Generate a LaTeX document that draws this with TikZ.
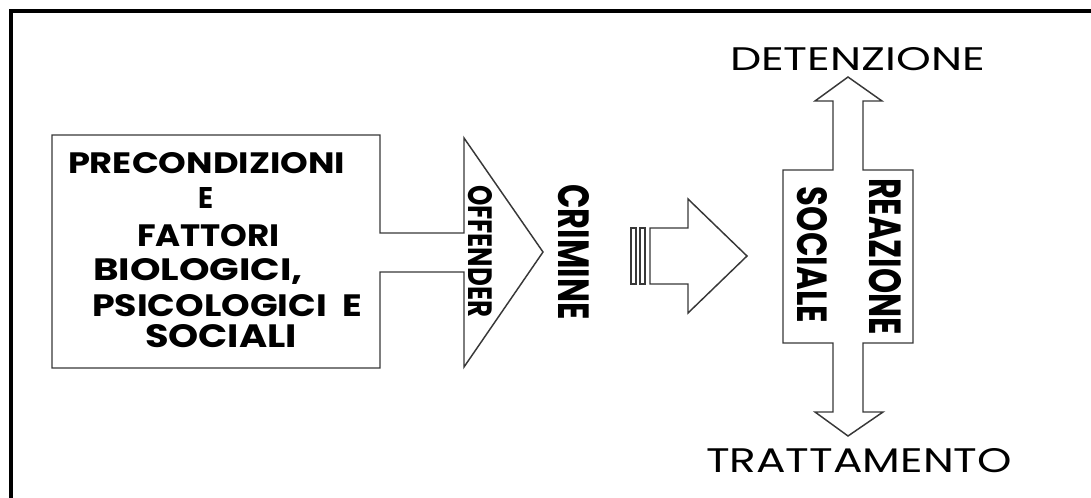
\documentclass[tikz,border=0pt]{standalone}
\usepackage{fontspec}
\usepackage{graphicx}
\setmainfont{Poppins}
\newdimen\pxu \pxu=0.75pt
\newcommand\fitt[3]{\resizebox{#1\pxu}{#2\pxu}{#3}}
\begin{document}
\begin{tikzpicture}[x=0.75pt,y=-0.75pt,
  shape line/.style={draw=black!78, line width=1.1pt, line join=miter, fill=white},
  lbl/.style={inner sep=0pt, outer sep=0pt, text=black},
  vlbl/.style={lbl, rotate=-90, anchor=center}]
\useasboundingbox (0,0) rectangle (1091,497);
\clip (0,0) rectangle (1091,497);
% frame
\draw[line width=2.4pt, black] (11,510) -- (11,11) -- (1100,11);
% box + arm + triangle
\draw[shape line] (52,135) -- (380,135) -- (380,233) -- (464,233) -- (464,138) -- (543,252)
  -- (464,367) -- (464,272) -- (380,272) -- (380,368) -- (52,368) -- cycle;
% striped arrow
\draw[shape line] (631,228) rectangle (636,284);
\draw[shape line] (640,228) rectangle (645,284);
\draw[shape line] (650,228) -- (688,228) -- (688,199) -- (747,256) -- (688,313) -- (688,284) -- (650,284) -- cycle;
% vertical double arrow with box
\draw[shape line] (848,77) -- (882,101) -- (863,101) -- (863,170) -- (913,170) -- (913,343)
  -- (863,343) -- (863,412) -- (883,412) -- (848,436) -- (815,412) -- (833,412) -- (833,343)
  -- (783,343) -- (783,170) -- (833,170) -- (833,101) -- (815,101) -- cycle;
% left box text
\node[lbl, anchor=base west] (t1) at (68,173) {\fitt{277}{21}{\bfseries PRECONDIZIONI}};
\node[lbl, anchor=base west] (t2) at (198,208) {\fitt{15}{21}{\bfseries E}};
\node[lbl, anchor=base west] (t3) at (137,246) {\fitt{143}{22}{\bfseries FATTORI}};
\node[lbl, anchor=base west] (t4) at (93,280) {\fitt{210}{22}{\bfseries BIOLOGICI,}};
\node[lbl, anchor=base west] (t5) at (92,316) {\fitt{270}{22}{\bfseries PSICOLOGICI\ \ E}};
\node[lbl, anchor=base west] (t6) at (145,347) {\fitt{152}{23}{\bfseries SOCIALI}};
% rotated labels
\node[vlbl] (offender) at (480,251) {\fitt{132}{24}{\bfseries OFFENDER}};
\node[vlbl] (crimine) at (574,252) {\fitt{135}{31}{\bfseries CRIMINE}};
\node[vlbl] (sociale) at (812.5,255) {\fitt{136}{30}{\bfseries SOCIALE}};
\node[vlbl] (reazione) at (885,256.5) {\fitt{157}{32}{\bfseries REAZIONE}};
% top / bottom labels
\node[lbl, anchor=base west] (det) at (730,70) {\fitt{255}{23}{DETENZIONE}};
\node[lbl, anchor=base west] (tratt) at (706,472) {\fitt{306}{24}{TRATTAMENTO}};
\end{tikzpicture}
\end{document}
